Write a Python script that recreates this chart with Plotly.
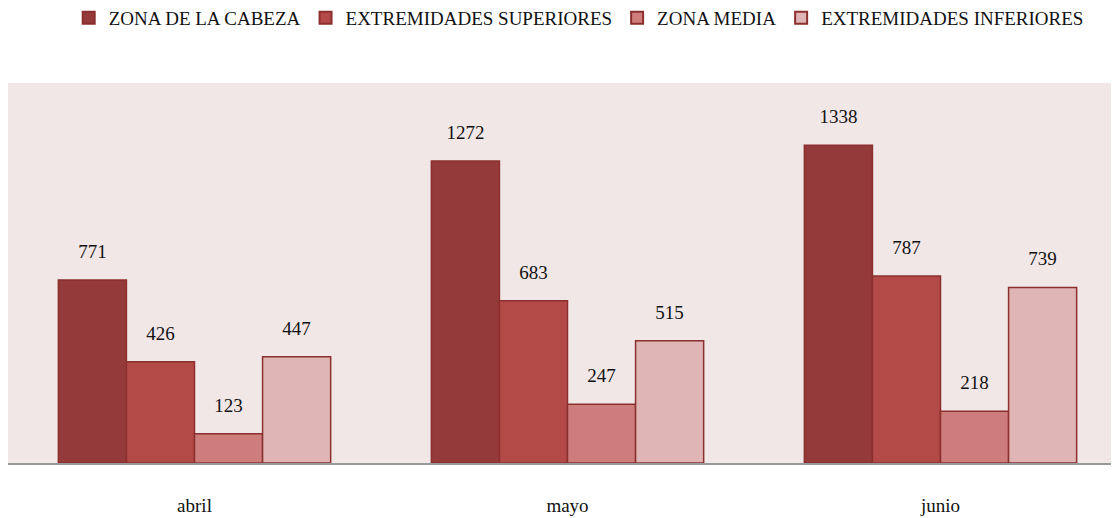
import plotly.graph_objects as go

months = ["abril", "mayo", "junio"]
series_names = ["ZONA DE LA CABEZA", "EXTREMIDADES SUPERIORES", "ZONA MEDIA", "EXTREMIDADES INFERIORES"]
zona_cabeza = [771, 1272, 1338]
ext_superiores = [426, 683, 787]
zona_media = [123, 247, 218]
ext_inferiores = [447, 515, 739]
colors = ["#953a3a", "#b34a48", "#cd7e7c", "#dfb5b5"]

values = [zona_cabeza, ext_superiores, zona_media, ext_inferiores]
font_family = "Liberation Serif"
txt_font = dict(family=font_family, size=19, color="#111")
gap = 0.27

fig = go.Figure()
for name, vals, col in zip(series_names, values, colors):
    fig.add_trace(go.Bar(
        name=name, x=months, y=vals,
        marker=dict(color=col, line=dict(color="#8c2f2f", width=1.5)),
    ))
for name, vals in zip(series_names, values):
    fig.add_trace(go.Scatter(
        x=months, y=vals, mode="markers+text", showlegend=False, hoverinfo="skip",
        marker=dict(size=26, color="rgba(0,0,0,0)"),
        text=[str(v) for v in vals], textposition="top center",
        textfont=txt_font, cliponaxis=False,
    ))

fig.update_layout(
    width=1119, height=518,
    margin=dict(l=0, r=0, t=75, b=63, autoexpand=False),
    paper_bgcolor="white", plot_bgcolor="#f2e7e7",
    barmode="group", bargap=gap, bargroupgap=0,
    scattermode="group", scattergap=gap,
    font=txt_font,
    showlegend=True,
    legend=dict(orientation="h", x=0.51, xanchor="center", yref="container", y=0.981, yanchor="middle",
                font=txt_font, itemsizing="constant", traceorder="normal", itemwidth=30),
    xaxis=dict(range=[-0.5, 2.5], showline=True, linecolor="#999", linewidth=2,
               ticks="", ticklabelstandoff=24, showgrid=False, automargin=False, tickfont=txt_font),
    yaxis=dict(range=[0, 1600], showticklabels=False, showgrid=False, zeroline=False, ticks="",
               automargin=False),
)
fig.write_html("out.html")
